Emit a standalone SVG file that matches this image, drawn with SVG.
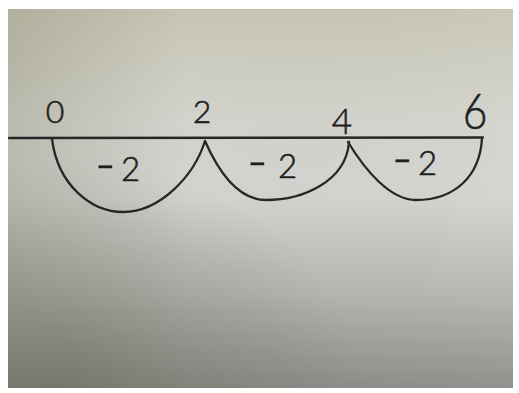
<svg xmlns="http://www.w3.org/2000/svg" width="519" height="393" viewBox="0 0 519 393">
  <defs>
    <linearGradient id="bgV" x1="0" y1="0" x2="0" y2="1">
      <stop offset="0" stop-color="#c6c5b4"/>
      <stop offset="0.3" stop-color="#d3d3cd"/>
      <stop offset="0.5" stop-color="#d2d2cf"/>
      <stop offset="0.75" stop-color="#b4b4b1"/>
      <stop offset="1" stop-color="#8b8c88"/>
    </linearGradient>
    <linearGradient id="bgH" x1="0" y1="0" x2="1" y2="0">
      <stop offset="0" stop-color="#6f6f55" stop-opacity="0.25"/>
      <stop offset="0.35" stop-color="#6f6f55" stop-opacity="0"/>
      <stop offset="1" stop-color="#ffffff" stop-opacity="0.05"/>
    </linearGradient>
    <radialGradient id="bgR" cx="0.1" cy="1" r="0.6">
      <stop offset="0" stop-color="#5a5b45" stop-opacity="0.35"/>
      <stop offset="1" stop-color="#5a5b45" stop-opacity="0"/>
    </radialGradient>
  </defs>
  <style>
    .ink { fill: none; stroke: #262626; stroke-width: 2.3; stroke-linecap: round; stroke-linejoin: round; }
    .num { font-family: Lato, "Liberation Sans", sans-serif; font-weight: 300; fill: #1f1f1f; stroke: #1f1f1f; stroke-width: 0.6; text-anchor: middle; }
    .lbl { font-family: Lato, "Liberation Sans", sans-serif; font-weight: 300; fill: #1f1f1f; stroke: #1f1f1f; stroke-width: 0.6; font-size: 33px; }
    .dash { font-size: 56px; }
  </style>
  <rect width="519" height="393" fill="#ffffff"/>
  <rect x="8" y="9" width="505" height="379" fill="url(#bgV)"/>
  <rect x="8" y="9" width="505" height="379" fill="url(#bgH)"/>
  <rect x="8" y="9" width="505" height="379" fill="url(#bgR)"/>

  <g id="axis">
    <path class="ink" d="M9,138 L483,137.5"/>
  </g>

  <g id="n0"><text class="num" x="55" y="123" font-size="32">0</text></g>
  <g id="n2"><text class="num" x="202" y="123" font-size="32">2</text></g>
  <g id="n4"><text class="num" x="342" y="134" font-size="35">4</text></g>
  <g id="n6"><text class="num" transform="translate(475,129) scale(0.85,1)" x="0" y="0" font-size="50">6</text></g>

  <g id="connectors">
    <path class="ink" d="M52,139 C58,186 92,212 123,212 C160,212 194,176 205,141"/>
    <path class="ink" d="M205,141 C220,175 240,200 266,200 C302,200 346,182 349,142"/>
    <path class="ink" d="M348,142 C365,170 390,200 416,200 C455,200 480,176 482,138"/>
  </g>

  <g id="arc-labels">
    <text class="lbl" y="181"><tspan class="dash" x="95" dy="2">-</tspan><tspan x="121" dy="-2">2</tspan></text>
    <text class="lbl" y="178"><tspan class="dash" x="247" dy="2">-</tspan><tspan x="278" dy="-2">2</tspan></text>
    <text class="lbl" y="175"><tspan class="dash" x="392" dy="2">-</tspan><tspan x="418" dy="-2">2</tspan></text>
  </g>
</svg>
